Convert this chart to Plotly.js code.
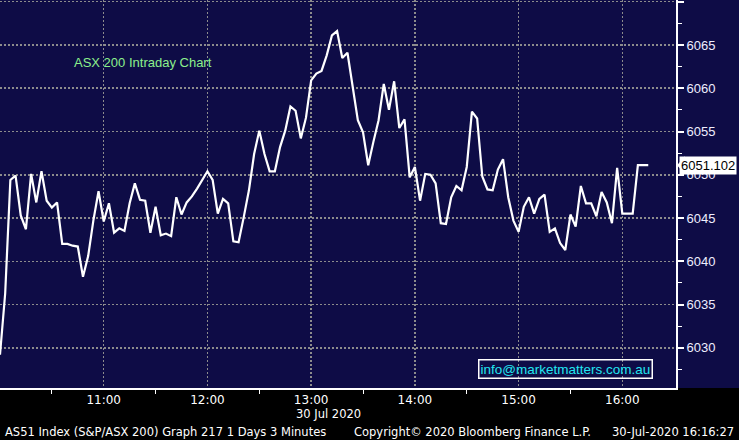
<!DOCTYPE html>
<html>
<head>
<meta charset="utf-8">
<script src="https://cdn.plot.ly/plotly-3.0.1.min.js"></script>
<style>
html,body{margin:0;padding:0;background:#000;}
#chart{width:739px;height:440px;}
</style>
</head>
<body>
<div id="chart"></div>
<script>
// ---- data ----
var chartTitle = "ASX 200 Intraday Chart";
var sessionDate = "2020-07-30";
var startTime = "10:00";      // first bar
var stepMinutes = 3;          // "3 Minutes" bars
var prices = [
  6029.2, 6036.3, 6049.4, 6049.9, 6045.3, 6043.7, 6050.1, 6046.8, 6050.4, 6047.0,
  6046.2, 6046.8, 6042.0, 6042.0, 6041.8, 6041.7, 6038.2, 6040.6, 6044.7, 6048.1,
  6044.6, 6046.7, 6043.3, 6043.8, 6043.5, 6046.7, 6049.0, 6047.1, 6047.0, 6043.3,
  6046.3, 6043.0, 6043.2, 6042.9, 6047.4, 6045.4, 6046.8, 6047.5, 6048.4, 6049.4,
  6050.4, 6049.4, 6045.5, 6047.2, 6046.7, 6042.3, 6042.2, 6045.1, 6048.2, 6052.4,
  6055.1, 6052.4, 6050.4, 6050.4, 6053.2, 6055.1, 6057.9, 6057.4, 6054.2, 6056.6,
  6060.9, 6061.7, 6062.0, 6063.8, 6066.1, 6066.6, 6063.5, 6064.1, 6060.1, 6056.3,
  6054.9, 6051.1, 6053.8, 6056.3, 6060.5, 6057.5, 6060.8, 6055.4, 6056.4, 6049.7,
  6050.9, 6047.0, 6050.1, 6050.0, 6049.0, 6044.4, 6044.3, 6047.4, 6048.7, 6048.2,
  6050.9, 6057.3, 6056.5, 6049.8, 6048.3, 6048.2, 6050.6, 6051.8, 6047.4, 6044.7,
  6043.4, 6046.3, 6047.4, 6045.5, 6047.2, 6047.7, 6043.4, 6043.8, 6042.1, 6041.3,
  6045.4, 6044.0, 6048.7, 6046.7, 6046.7, 6045.2, 6048.0, 6046.8, 6044.4, 6050.8,
  6045.5, 6045.5, 6045.5, 6051.102, 6051.102, 6051.102
];
var hourTicks = ["10:00", "11:00", "12:00", "13:00", "14:00", "15:00", "16:00"];
var hourLabels = ["", "11:00", "12:00", "13:00", "14:00", "15:00", "16:00"];
var halfHourTicks = ["10:30", "11:30", "12:30", "13:30", "14:30", "15:30"];
var yTickVals = [6030, 6035, 6040, 6045, 6050, 6055, 6060, 6065, 6070];
var yTickText = ["6030", "6035", "6040", "6045", "6050", "6055", "6060", "6065", ""];
var dateLabel = "30 Jul 2020";
var emailText = "info@marketmatters.com.au";
var footerLeft = "AS51 Index (S&amp;P/ASX 200) Graph 217 1 Days 3 Minutes";
var footerMid = "Copyright\u00A9 2020 Bloomberg Finance L.P.";
var footerRight = "30-Jul-2020 16:16:27";
var lastPrice = prices[prices.length - 1];
var lastLabel = lastPrice.toFixed(3);

// ---- build time axis from the bar interval ----
function pad(n){ return (n < 10 ? "0" : "") + n; }
function stamp(hm){ return sessionDate + " " + hm + ":00"; }
var sp = startTime.split(":");
var startMin = parseInt(sp[0], 10) * 60 + parseInt(sp[1], 10);
var times = prices.map(function(_, i){
  var m = startMin + i * stepMinutes;
  return sessionDate + " " + pad(Math.floor(m / 60)) + ":" + pad(m % 60) + ":00";
});

// ---- layout geometry ----
var W = 739, H = 440, ML = 0, MR = 63, MT = 0, MB = 52;
var PW = W - ML - MR, PH = H - MT - MB;
function px(x){ return (x - ML) / PW; }
function py(y){ return (H - MB - y) / PH; }

var navy = "#0e0c46";
var gridCol = "#8c8c8c";
var txtFont = "DejaVu Sans, Verdana, sans-serif";

var trace = {
  x: times, y: prices, type: "scatter", mode: "lines",
  line: {color: "#ffffff", width: 2.2}, hoverinfo: "skip"
};

var layout = {
  width: W, height: H,
  margin: {l: ML, r: MR, t: MT, b: MB, pad: 0},
  paper_bgcolor: "#000000",
  plot_bgcolor: navy,
  showlegend: false,
  xaxis: {
    type: "date",
    range: [stamp("10:00"), sessionDate + " 16:31:03"],
    tickmode: "array",
    tickvals: hourTicks.map(stamp),
    ticktext: hourLabels,
    ticks: "",
    showgrid: true, gridcolor: gridCol, gridwidth: 1.5, griddash: "2px,2px",
    showline: true, linecolor: "#ffffff", linewidth: 2,
    zeroline: false,
    tickfont: {family: txtFont, size: 12, color: "#ffffff"},
    minor: {tickvals: halfHourTicks.map(stamp), ticks: "outside", ticklen: 4, tickwidth: 1, tickcolor: "#ffffff", showgrid: false},
    fixedrange: true
  },
  yaxis: {
    side: "right",
    range: [6025.35, 6070.2],
    tickmode: "array",
    tickvals: yTickVals,
    ticktext: yTickText,
    ticks: "outside", ticklen: 6, tickwidth: 2, tickcolor: "#ffffff",
    showgrid: true, gridcolor: gridCol, gridwidth: 1.5, griddash: "2px,2px",
    showline: true, linecolor: "#ffffff", linewidth: 2,
    zeroline: false,
    tickfont: {family: "Liberation Sans, Arial, sans-serif", size: 13, color: "#eeeeff"},
    minor: {dtick: 2.5, tick0: 6025, ticks: "outside", ticklen: 4, tickwidth: 1, tickcolor: "#ffffff", showgrid: false},
    fixedrange: true
  },
  shapes: [
    {type: "rect", xref: "paper", yref: "paper", x0: 1, x1: W / PW, y0: 0, y1: 1,
     fillcolor: navy, line: {width: 0}, layer: "below"},
    {type: "path", xref: "paper", yref: "y",
     path: "M " + px(677) + "," + lastPrice + " L " + px(685) + "," + (lastPrice + 1.05) +
           " L " + px(685) + "," + (lastPrice - 1.05) + " Z",
     fillcolor: "#ffffff", line: {width: 0}, layer: "above"}
  ],
  annotations: [
    {text: chartTitle, xref: "paper", yref: "paper", x: px(72), y: py(63),
     xanchor: "left", yanchor: "middle", showarrow: false,
     font: {family: "Liberation Sans, Arial, sans-serif", size: 13, color: "#8cf08c"}},
    {text: emailText, xref: "paper", yref: "paper", x: px(565), y: py(368.5),
     xanchor: "center", yanchor: "middle", showarrow: false,
     bordercolor: "#ffffff", borderwidth: 1.5, borderpad: 1,
     font: {family: "Liberation Sans, Arial, sans-serif", size: 13.5, color: "#22e6f0"}},
    {text: lastLabel, xref: "paper", yref: "y", x: px(737), y: lastPrice,
     xanchor: "right", yanchor: "middle", showarrow: false,
     bgcolor: "#ffffff", borderpad: 1,
     font: {family: "Liberation Sans, Arial, sans-serif", size: 13, color: "#000000"}},
    {text: dateLabel, xref: "paper", yref: "paper", x: px(328), y: py(414),
     xanchor: "center", yanchor: "middle", showarrow: false,
     font: {family: txtFont, size: 11.5, color: "#ffffff"}},
    {text: footerLeft, xref: "paper", yref: "paper", x: px(3), y: py(432),
     xanchor: "left", yanchor: "middle", showarrow: false,
     font: {family: txtFont, size: 11.5, color: "#ffffff"}},
    {text: footerMid, xref: "paper", yref: "paper", x: px(352), y: py(432),
     xanchor: "left", yanchor: "middle", showarrow: false,
     font: {family: txtFont, size: 11.5, color: "#ffffff"}},
    {text: footerRight, xref: "paper", yref: "paper", x: px(736), y: py(432),
     xanchor: "right", yanchor: "middle", showarrow: false,
     font: {family: txtFont, size: 11.5, color: "#ffffff"}}
  ]
};

Plotly.newPlot("chart", [trace], layout, {displayModeBar: false, staticPlot: true});
</script>
</body>
</html>
